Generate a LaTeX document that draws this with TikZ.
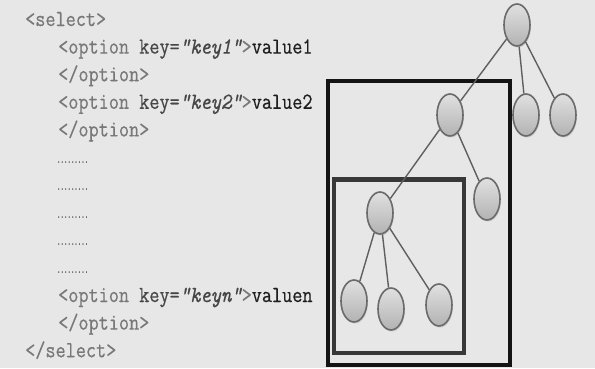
\documentclass[tikz,border=0pt]{standalone}
\usepackage{fontspec}
\newfontfamily\codefont[FakeStretch=0.855, FakeBold=0.5]{Latin Modern Mono}
\newfontfamily\dotfont[FakeStretch=0.48]{Liberation Mono}
\usetikzlibrary{
  shapes.geometric, % 椭圆节点
  shadows           % 节点阴影
}
\definecolor{bgc}{RGB}{231,231,231}
\definecolor{tagc}{RGB}{120,120,120}
\definecolor{keyc}{RGB}{70,70,70}
\definecolor{valc}{RGB}{30,30,30}
\definecolor{edgec}{RGB}{95,95,95}
\tikzset{
  code line/.style={
    anchor=base west,
    inner sep=0pt,
    font=\codefont\fontsize{23}{26}\selectfont,
    text=tagc
  },
  dot line/.style={
    anchor=base west,
    inner sep=0pt,
    font=\dotfont\bfseries\fontsize{12}{14}\selectfont,
    text=valc!80
  },
  tree node/.style={
    ellipse,
    minimum width=26pt,
    minimum height=42pt,
    inner sep=0pt,
    draw=black!58,
    line width=1.6pt,
    top color=black!12,
    bottom color=black!30,
    drop shadow={opacity=0.25, shadow xshift=1pt, shadow yshift=-1.5pt}
  },
  tree edge/.style={
    draw=edgec,
    line width=1.4pt
  },
  outer frame/.style={
    draw=black!92,
    line width=4pt
  },
  inner frame/.style={
    draw=black!78,
    line width=4.5pt
  }
}

\begin{document}
\begin{tikzpicture}[x=1pt, y=-1pt]

  % 背景
  \fill[bgc] (0,0) rectangle (595,368);
  \useasboundingbox (0,0) rectangle (595,368);

  % ======================= 左侧代码 =======================
  \def\dy{27.6}
  \node[code line] (sel) at (25, 26) {<select>};
  \node[code line] (opt1) at (58, 26+\dy)
    {<option \textcolor{keyc}{key=\itshape"key1"}>\textcolor{valc}{value1}};
  \node[code line] (end1) at (58, 26+2*\dy) {</option>};
  \node[code line] (opt2) at (58, 26+3*\dy)
    {<option \textcolor{keyc}{key=\itshape"key2"}>\textcolor{valc}{value2}};
  \node[code line] (end2) at (58, 26+4*\dy) {</option>};

  % 省略号行
  \foreach \i in {5,...,9}
    \node[dot line] (dots\i) at (57, 25+\i*\dy) {.........};

  \node[code line] (optn) at (58, 26+10*\dy)
    {<option \textcolor{keyc}{key=\itshape"keyn"}>\textcolor{valc}{valuen}};
  \node[code line] (endn) at (58, 26+11*\dy) {</option>};
  \node[code line] (endsel) at (25, 26+12*\dy) {</select>};

  % ======================= 右侧树 =======================
  % 外框与内框
  \draw[outer frame] (328, 80.5) rectangle (510, 365);
  \draw[inner frame] (334, 179.5) rectangle (464, 353);

  % 节点
  \node[tree node] (root) at (517, 25) {};
  \node[tree node] (na) at (450, 115) {};
  \node[tree node] (nb) at (526, 115) {};
  \node[tree node] (nc) at (563, 115) {};
  \node[tree node] (nd) at (380, 213) {};
  \node[tree node] (ne) at (487, 199) {};
  \node[tree node] (nf) at (354, 301) {};
  \node[tree node] (ng) at (391, 309) {};
  \node[tree node] (nh) at (439, 305) {};

  % 连线
  \draw[tree edge] (root) -- (na);
  \draw[tree edge] (root) -- (nb);
  \draw[tree edge] (root) -- (nc);
  \draw[tree edge] (na) -- (nd);
  \draw[tree edge] (na) -- (ne);
  \draw[tree edge] (nd) -- (nf);
  \draw[tree edge] (nd) -- (ng);
  \draw[tree edge] (nd) -- (nh);

\end{tikzpicture}
\end{document}
